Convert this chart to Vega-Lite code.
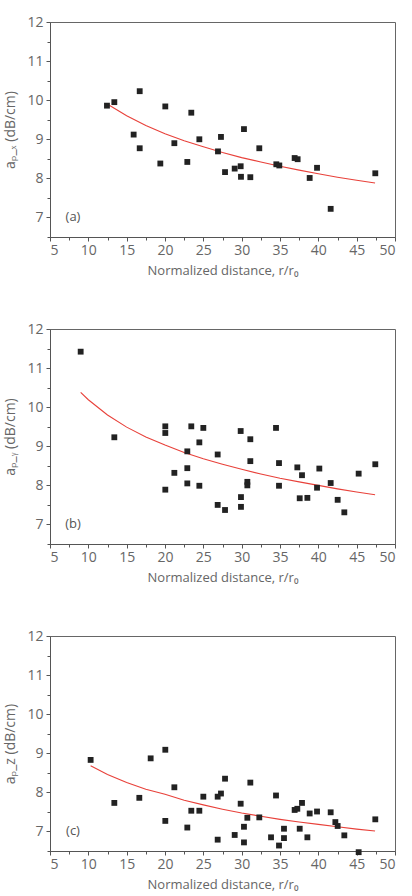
{
  "$schema": "https://vega.github.io/schema/vega-lite/v6.json",
  "padding": {"left": 3, "top": 14, "right": 5, "bottom": 5},
  "background": "white",
  "spacing": 92,
  "bounds": "flush",
  "config": {
    "view": {"stroke": "#666", "strokeWidth": 1},
    "font": "Open Sans",
    "axis": {
      "grid": false,
      "domainColor": "#555",
      "tickColor": "#555",
      "labelColor": "#666",
      "titleColor": "#666",
      "labelFont": "Open Sans",
      "titleFont": "Open Sans",
      "labelFontSize": 14,
      "titleFontSize": 13,
      "titleFontWeight": "normal"
    },
    "axisLeft": {"titleFontSize": 14}
  },
  "datasets": {
    "pa": [
      {"r": 12.43, "alpha": 9.86}, {"r": 13.39, "alpha": 9.95}, {"r": 16.7, "alpha": 10.23},
      {"r": 15.91, "alpha": 9.12}, {"r": 16.7, "alpha": 8.77}, {"r": 20.04, "alpha": 9.84},
      {"r": 19.39, "alpha": 8.38}, {"r": 21.22, "alpha": 8.9}, {"r": 22.91, "alpha": 8.42},
      {"r": 23.43, "alpha": 9.68}, {"r": 24.48, "alpha": 9.0}, {"r": 26.91, "alpha": 8.69},
      {"r": 27.3, "alpha": 9.06}, {"r": 27.83, "alpha": 8.16}, {"r": 29.09, "alpha": 8.25},
      {"r": 29.87, "alpha": 8.31}, {"r": 29.91, "alpha": 8.04}, {"r": 30.3, "alpha": 9.26},
      {"r": 31.13, "alpha": 8.03}, {"r": 32.3, "alpha": 8.77}, {"r": 34.52, "alpha": 8.36},
      {"r": 34.91, "alpha": 8.33}, {"r": 36.91, "alpha": 8.52}, {"r": 37.3, "alpha": 8.49},
      {"r": 38.87, "alpha": 8.01}, {"r": 39.83, "alpha": 8.27}, {"r": 41.61, "alpha": 7.22},
      {"r": 47.43, "alpha": 8.13}
    ],
    "ca": [
      {"r": 12.57, "alpha": 9.89}, {"r": 15, "alpha": 9.6}, {"r": 17.5, "alpha": 9.35},
      {"r": 20, "alpha": 9.14}, {"r": 22.5, "alpha": 8.96}, {"r": 25, "alpha": 8.81},
      {"r": 27.5, "alpha": 8.66}, {"r": 30, "alpha": 8.53}, {"r": 32.5, "alpha": 8.42},
      {"r": 35, "alpha": 8.31}, {"r": 37.5, "alpha": 8.21}, {"r": 40, "alpha": 8.12},
      {"r": 42.5, "alpha": 8.03}, {"r": 45, "alpha": 7.95}, {"r": 47.4, "alpha": 7.88}
    ],
    "pb": [
      {"r": 9.0, "alpha": 11.42}, {"r": 13.39, "alpha": 9.23}, {"r": 20.04, "alpha": 9.51},
      {"r": 20.04, "alpha": 9.34}, {"r": 20.04, "alpha": 7.89}, {"r": 21.22, "alpha": 8.32},
      {"r": 22.91, "alpha": 8.87}, {"r": 22.91, "alpha": 8.44}, {"r": 22.91, "alpha": 8.05},
      {"r": 23.43, "alpha": 9.51}, {"r": 24.48, "alpha": 9.1}, {"r": 24.48, "alpha": 7.99},
      {"r": 25.0, "alpha": 9.47}, {"r": 26.87, "alpha": 8.79}, {"r": 26.87, "alpha": 7.5},
      {"r": 27.83, "alpha": 7.37}, {"r": 29.87, "alpha": 9.39}, {"r": 29.91, "alpha": 7.7},
      {"r": 29.91, "alpha": 7.45}, {"r": 30.74, "alpha": 8.09}, {"r": 30.74, "alpha": 8.0},
      {"r": 31.13, "alpha": 9.18}, {"r": 31.13, "alpha": 8.62}, {"r": 34.48, "alpha": 9.47},
      {"r": 34.87, "alpha": 8.57}, {"r": 34.87, "alpha": 7.99}, {"r": 37.26, "alpha": 8.46},
      {"r": 37.57, "alpha": 7.67}, {"r": 37.87, "alpha": 8.26}, {"r": 38.57, "alpha": 7.68},
      {"r": 39.83, "alpha": 7.94}, {"r": 40.13, "alpha": 8.43}, {"r": 41.61, "alpha": 8.06},
      {"r": 42.52, "alpha": 7.63}, {"r": 43.39, "alpha": 7.31}, {"r": 45.26, "alpha": 8.3},
      {"r": 47.43, "alpha": 8.54}
    ],
    "cb": [
      {"r": 9, "alpha": 10.38}, {"r": 10, "alpha": 10.19}, {"r": 12.5, "alpha": 9.8},
      {"r": 15, "alpha": 9.49}, {"r": 17.5, "alpha": 9.24}, {"r": 20, "alpha": 9.03},
      {"r": 22.5, "alpha": 8.84}, {"r": 25, "alpha": 8.68}, {"r": 27.5, "alpha": 8.54},
      {"r": 30, "alpha": 8.41}, {"r": 32.5, "alpha": 8.29}, {"r": 35, "alpha": 8.18},
      {"r": 37.5, "alpha": 8.09}, {"r": 40, "alpha": 8.0}, {"r": 42.5, "alpha": 7.91},
      {"r": 45, "alpha": 7.83}, {"r": 47.4, "alpha": 7.76}
    ],
    "pc": [
      {"r": 10.3, "alpha": 8.83}, {"r": 13.39, "alpha": 7.73}, {"r": 16.65, "alpha": 7.86},
      {"r": 18.13, "alpha": 8.87}, {"r": 20.04, "alpha": 9.09}, {"r": 20.04, "alpha": 7.27},
      {"r": 21.22, "alpha": 8.13}, {"r": 22.91, "alpha": 7.1}, {"r": 23.43, "alpha": 7.53},
      {"r": 24.48, "alpha": 7.53}, {"r": 25.0, "alpha": 7.89}, {"r": 26.87, "alpha": 7.89},
      {"r": 26.87, "alpha": 6.79}, {"r": 27.3, "alpha": 7.97}, {"r": 27.83, "alpha": 8.35},
      {"r": 29.09, "alpha": 6.91}, {"r": 29.87, "alpha": 7.71}, {"r": 30.3, "alpha": 7.12},
      {"r": 30.3, "alpha": 6.72}, {"r": 30.74, "alpha": 7.35}, {"r": 31.13, "alpha": 8.25},
      {"r": 32.3, "alpha": 7.36}, {"r": 33.83, "alpha": 6.85}, {"r": 34.48, "alpha": 7.92},
      {"r": 34.87, "alpha": 6.64}, {"r": 35.52, "alpha": 7.07}, {"r": 35.52, "alpha": 6.83},
      {"r": 36.91, "alpha": 7.55}, {"r": 37.26, "alpha": 7.58}, {"r": 37.57, "alpha": 7.07},
      {"r": 37.87, "alpha": 7.73}, {"r": 38.57, "alpha": 6.85}, {"r": 38.87, "alpha": 7.46},
      {"r": 39.83, "alpha": 7.51}, {"r": 41.61, "alpha": 7.49}, {"r": 42.22, "alpha": 7.24},
      {"r": 42.52, "alpha": 7.14}, {"r": 43.39, "alpha": 6.9}, {"r": 45.26, "alpha": 6.47},
      {"r": 47.43, "alpha": 7.31}
    ],
    "cc": [
      {"r": 10.3, "alpha": 8.68}, {"r": 12.5, "alpha": 8.46}, {"r": 15, "alpha": 8.25},
      {"r": 17.5, "alpha": 8.08}, {"r": 20, "alpha": 7.95}, {"r": 22.5, "alpha": 7.8},
      {"r": 25, "alpha": 7.68}, {"r": 27.5, "alpha": 7.57}, {"r": 30, "alpha": 7.47},
      {"r": 32.5, "alpha": 7.39}, {"r": 35, "alpha": 7.31}, {"r": 37.5, "alpha": 7.24},
      {"r": 40, "alpha": 7.18}, {"r": 42.5, "alpha": 7.12}, {"r": 45, "alpha": 7.06},
      {"r": 47.4, "alpha": 7.01}
    ],
    "labels": [
      {"panel": "a", "r": 8.0, "alpha": 7.0, "text": "(a)"},
      {"panel": "b", "r": 8.0, "alpha": 7.0, "text": "(b)"},
      {"panel": "c", "r": 8.0, "alpha": 7.0, "text": "(c)"}
    ]
  },
  "vconcat": [
    {
      "width": 345, "height": 215,
      "resolve": {"axis": {"x": "independent", "y": "independent"}},
      "layer": [
        {
          "data": {"name": "ca"},
          "mark": {"type": "line", "color": "#e8413a", "strokeWidth": 1.1},
          "encoding": {
            "x": {"field": "r", "type": "quantitative", "scale": {"domain": [5, 50], "nice": false, "zero": false},
              "axis": {"orient": "bottom", "values": [7.5, 12.5, 17.5, 22.5, 27.5, 32.5, 37.5, 42.5, 47.5], "labels": false, "tickSize": 3, "domain": false, "title": null}},
            "y": {"field": "alpha", "type": "quantitative", "scale": {"domain": [6.5, 12], "nice": false, "zero": false},
              "axis": {"orient": "left", "values": [6.5, 7.5, 8.5, 9.5, 10.5, 11.5], "labels": false, "tickSize": 3, "domain": false, "title": null}}
          }
        },
        {
          "data": {"name": "pa"},
          "mark": {"type": "square", "size": 34, "color": "#222", "opacity": 1},
          "encoding": {
            "x": {"field": "r", "type": "quantitative", "scale": {"domain": [5, 50], "nice": false, "zero": false},
              "axis": {"orient": "bottom", "values": [5, 10, 15, 20, 25, 30, 35, 40, 45, 50], "tickSize": 4, "labelPadding": 2, "titlePadding": 7, "title": "Normalized distance, r/r₀"}},
            "y": {"field": "alpha", "type": "quantitative", "scale": {"domain": [6.5, 12], "nice": false, "zero": false},
              "axis": {"orient": "left", "values": [7, 8, 9, 10, 11, 12], "tickSize": 4, "labelPadding": 3, "titlePadding": 9, "title": "aₚ_ₓ (dB/cm)"}}
          }
        },
        {
          "data": {"name": "labels"},
          "transform": [{"filter": "datum.panel === 'a'"}],
          "mark": {"type": "text", "fontSize": 13, "color": "#555", "font": "Open Sans"},
          "encoding": {
            "x": {"field": "r", "type": "quantitative", "axis": null},
            "y": {"field": "alpha", "type": "quantitative", "axis": null},
            "text": {"field": "text"}
          }
        }
      ]
    },
    {
      "width": 345, "height": 215,
      "resolve": {"axis": {"x": "independent", "y": "independent"}},
      "layer": [
        {
          "data": {"name": "cb"},
          "mark": {"type": "line", "color": "#e8413a", "strokeWidth": 1.1},
          "encoding": {
            "x": {"field": "r", "type": "quantitative", "scale": {"domain": [5, 50], "nice": false, "zero": false},
              "axis": {"orient": "bottom", "values": [7.5, 12.5, 17.5, 22.5, 27.5, 32.5, 37.5, 42.5, 47.5], "labels": false, "tickSize": 3, "domain": false, "title": null}},
            "y": {"field": "alpha", "type": "quantitative", "scale": {"domain": [6.5, 12], "nice": false, "zero": false},
              "axis": {"orient": "left", "values": [6.5, 7.5, 8.5, 9.5, 10.5, 11.5], "labels": false, "tickSize": 3, "domain": false, "title": null}}
          }
        },
        {
          "data": {"name": "pb"},
          "mark": {"type": "square", "size": 34, "color": "#222", "opacity": 1},
          "encoding": {
            "x": {"field": "r", "type": "quantitative", "scale": {"domain": [5, 50], "nice": false, "zero": false},
              "axis": {"orient": "bottom", "values": [5, 10, 15, 20, 25, 30, 35, 40, 45, 50], "tickSize": 4, "labelPadding": 2, "titlePadding": 7, "title": "Normalized distance, r/r₀"}},
            "y": {"field": "alpha", "type": "quantitative", "scale": {"domain": [6.5, 12], "nice": false, "zero": false},
              "axis": {"orient": "left", "values": [7, 8, 9, 10, 11, 12], "tickSize": 4, "labelPadding": 3, "titlePadding": 9, "title": "aₚ_ᵧ (dB/cm)"}}
          }
        },
        {
          "data": {"name": "labels"},
          "transform": [{"filter": "datum.panel === 'b'"}],
          "mark": {"type": "text", "fontSize": 13, "color": "#555", "font": "Open Sans"},
          "encoding": {
            "x": {"field": "r", "type": "quantitative", "axis": null},
            "y": {"field": "alpha", "type": "quantitative", "axis": null},
            "text": {"field": "text"}
          }
        }
      ]
    },
    {
      "width": 345, "height": 215,
      "resolve": {"axis": {"x": "independent", "y": "independent"}},
      "layer": [
        {
          "data": {"name": "cc"},
          "mark": {"type": "line", "color": "#e8413a", "strokeWidth": 1.1},
          "encoding": {
            "x": {"field": "r", "type": "quantitative", "scale": {"domain": [5, 50], "nice": false, "zero": false},
              "axis": {"orient": "bottom", "values": [7.5, 12.5, 17.5, 22.5, 27.5, 32.5, 37.5, 42.5, 47.5], "labels": false, "tickSize": 3, "domain": false, "title": null}},
            "y": {"field": "alpha", "type": "quantitative", "scale": {"domain": [6.5, 12], "nice": false, "zero": false},
              "axis": {"orient": "left", "values": [6.5, 7.5, 8.5, 9.5, 10.5, 11.5], "labels": false, "tickSize": 3, "domain": false, "title": null}}
          }
        },
        {
          "data": {"name": "pc"},
          "mark": {"type": "square", "size": 34, "color": "#222", "opacity": 1},
          "encoding": {
            "x": {"field": "r", "type": "quantitative", "scale": {"domain": [5, 50], "nice": false, "zero": false},
              "axis": {"orient": "bottom", "values": [5, 10, 15, 20, 25, 30, 35, 40, 45, 50], "tickSize": 4, "labelPadding": 2, "titlePadding": 7, "title": "Normalized distance, r/r₀"}},
            "y": {"field": "alpha", "type": "quantitative", "scale": {"domain": [6.5, 12], "nice": false, "zero": false},
              "axis": {"orient": "left", "values": [7, 8, 9, 10, 11, 12], "tickSize": 4, "labelPadding": 3, "titlePadding": 9, "title": "aₚ_z (dB/cm)"}}
          }
        },
        {
          "data": {"name": "labels"},
          "transform": [{"filter": "datum.panel === 'c'"}],
          "mark": {"type": "text", "fontSize": 13, "color": "#555", "font": "Open Sans"},
          "encoding": {
            "x": {"field": "r", "type": "quantitative", "axis": null},
            "y": {"field": "alpha", "type": "quantitative", "axis": null},
            "text": {"field": "text"}
          }
        }
      ]
    }
  ]
}
